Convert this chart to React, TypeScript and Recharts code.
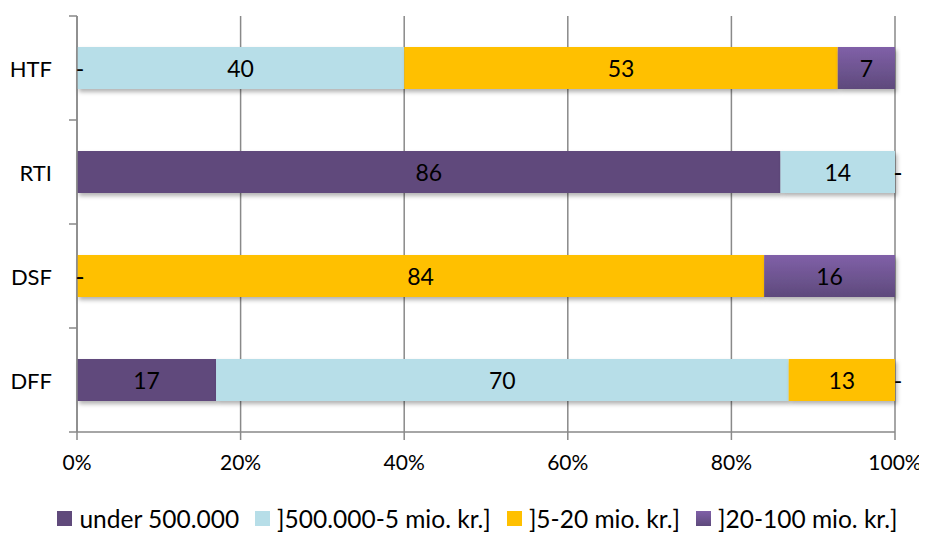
import React from 'react';
import { BarChart, Bar, XAxis, YAxis, CartesianGrid, LabelList, Legend } from 'recharts';

const categories = ['HTF', 'RTI', 'DSF', 'DFF'];
const under500k = [0, 86, 0, 17];
const k500to5m = [40, 14, 0, 70];
const m5to20 = [53, 0, 84, 13];
const m20to100 = [7, 0, 16, 0];
const xTicks = [0, 20, 40, 60, 80, 100];

const seriesKeys = ['under', 'k500', 'm5', 'm20'];
const seriesNames = ['under 500.000', ']500.000-5 mio. kr.]', ']5-20 mio. kr.]', ']20-100 mio. kr.]'];
const seriesFills = ['#604A7B', '#B7DEE8', '#FFC000', 'url(#gradPurple)'];
const legendFills = ['#604A7B', '#B7DEE8', '#FFC000', 'linear-gradient(#8060A8, #5E4A7C)'];

const data = categories.map((name, i) => ({
  name,
  under: under500k[i],
  k500: k500to5m[i],
  m5: m5to20[i],
  m20: m20to100[i],
}));

const W = 919;
const H = 525;
const MARGIN = { top: 8, right: 32, left: 0, bottom: 0 };
const Y_AXIS_W = 69;
const LEGEND_H = 29;
const X_AXIS_H = 101 - LEGEND_H;
const PLOT_H = H - MARGIN.top - MARGIN.bottom - X_AXIS_H - LEGEND_H;
const BAND = PLOT_H / categories.length;
const GRID = '#898989';
const FONT = 'Lato, "Open Sans", sans-serif';
const FS = 22;
const X_FS = 21;
const LABEL_FS = 23;
const LEGEND_FS = 24.5;

const YTick = (props: any) => {
  const { y, payload, index } = props;
  const ax = MARGIN.left + Y_AXIS_W;
  return (
    <g>
      <line x1={ax - 8} x2={ax} y1={y - BAND / 2} y2={y - BAND / 2} stroke={GRID} strokeWidth={1.5} />
      {index === categories.length - 1 && (
        <line x1={ax - 8} x2={ax} y1={y + BAND / 2} y2={y + BAND / 2} stroke={GRID} strokeWidth={1.5} />
      )}
      <text x={ax - 25} y={y} textAnchor="end" dominantBaseline="central" fontSize={FS} fill="#000" fontFamily={FONT}>
        {payload.value}
      </text>
    </g>
  );
};

const ShadowRect = (props: any) => {
  const { x, y, width, height, fill } = props;
  if (!width || width <= 0) return <g />;
  return <rect x={x} y={y} width={width} height={height} fill={fill} filter="url(#barShadow)" />;
};

const renderLabel = (props: any) => {
  const { x, y, width, height } = props;
  let value = props.value;
  if (Array.isArray(value)) value = value[1] - value[0];
  const isZero = Number(value) === 0;
  return (
    <text
      x={Number(x) + Number(width) / 2 + (isZero ? 3 : 0)}
      y={Number(y) + Number(height) / 2}
      textAnchor="middle"
      dominantBaseline="central"
      fontSize={LABEL_FS}
      fill="#000"
      fontFamily={FONT}
    >
      {isZero ? '-' : value}
    </text>
  );
};

const LegendContent = () => (
  <div
    style={{
      height: LEGEND_H,
      display: 'flex',
      justifyContent: 'center',
      alignItems: 'center',
      fontFamily: FONT,
      fontSize: LEGEND_FS,
      color: '#000',
      paddingLeft: 20,
      boxSizing: 'border-box',
    }}
  >
    {seriesNames.map((n, i) => (
      <div key={n} style={{ display: 'flex', alignItems: 'center', marginRight: i < seriesNames.length - 1 ? 16 : 0 }}>
        <span style={{ display: 'inline-block', width: 15, height: 15, background: legendFills[i], marginRight: 7 }} />
        <span style={{ whiteSpace: 'nowrap' }}>{n}</span>
      </div>
    ))}
  </div>
);

export default function App() {
  return (
    <div style={{ width: W, height: H, fontFamily: FONT }}>
      <BarChart width={W} height={H} data={data} layout="vertical" margin={MARGIN} barSize={42}>
        <defs>
          <linearGradient id="gradPurple" x1="0" y1="0" x2="0" y2="1">
            <stop offset="0%" stopColor="#8060A8" />
            <stop offset="100%" stopColor="#5E4A7C" />
          </linearGradient>
          <filter id="barShadow" x="-5%" y="-20%" width="115%" height="160%">
            <feDropShadow dx="2" dy="3" stdDeviation="2" floodColor="#000" floodOpacity="0.3" />
          </filter>
        </defs>
        <CartesianGrid horizontal={false} stroke={GRID} strokeWidth={1.5} />
        <XAxis
          type="number"
          domain={[0, 100]}
          ticks={xTicks}
          tickFormatter={(v: number) => `${v}%`}
          axisLine={{ stroke: GRID, strokeWidth: 1.5 }}
          tickLine={{ stroke: GRID, strokeWidth: 1.5 }}
          tickSize={8}
          tickMargin={15}
          height={X_AXIS_H}
          tick={{ fontSize: X_FS, fill: '#000', fontFamily: FONT }}
          interval={0}
        />
        <YAxis
          type="category"
          dataKey="name"
          width={Y_AXIS_W}
          axisLine={{ stroke: GRID, strokeWidth: 1.5 }}
          tickLine={false}
          tick={<YTick />}
          interval={0}
        />
        {seriesKeys.map((k, i) => (
          <Bar
            key={k}
            dataKey={k}
            name={seriesNames[i]}
            stackId="a"
            fill={seriesFills[i]}
            shape={<ShadowRect />}
            isAnimationActive={false}
          >
            <LabelList dataKey={k} content={renderLabel} />
          </Bar>
        ))}
        <Legend
          verticalAlign="bottom"
          content={<LegendContent />}
          wrapperStyle={{ top: 496, left: 0, width: W, height: LEGEND_H }}
        />
      </BarChart>
    </div>
  );
}
